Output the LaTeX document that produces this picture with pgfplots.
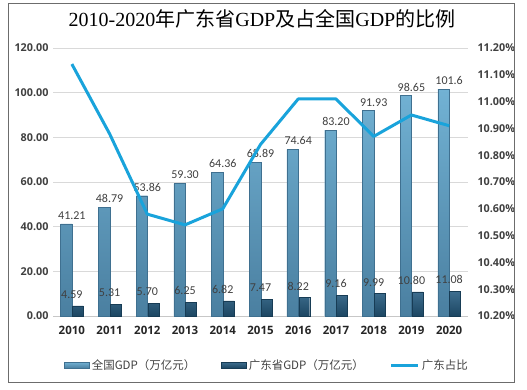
\documentclass[border=0pt]{standalone}
\usepackage{fontspec}
\usepackage{pgfplots}
\usepackage{pgfplotstable}
\pgfplotsset{compat=1.18}
\setmainfont{Carlito}
\newfontfamily\cjk{Noto Sans CJK SC}
\newfontfamily\ser{Liberation Serif}
\newfontfamily\tickf{Open Sans}
\definecolor{natt}{HTML}{72B2D4}
\definecolor{natb}{HTML}{4A7FA0}
\definecolor{natd}{HTML}{3F7090}
\definecolor{gdt}{HTML}{3F6F90}
\definecolor{gdb}{HTML}{1C4662}
\definecolor{gdd}{HTML}{173C55}
\definecolor{linec}{HTML}{19A3DB}
\definecolor{gridc}{HTML}{D9D9D9}
\definecolor{labc}{HTML}{404040}
\pgfplotstableread{
x nat natl gd gdl r
0 41.21 41.21 4.59 4.59 11.14
1 48.79 48.79 5.31 5.31 10.88
2 53.86 53.86 5.70 5.70 10.58
3 59.30 59.30 6.25 6.25 10.54
4 64.36 64.36 6.82 6.82 10.60
5 68.89 68.89 7.47 7.47 10.84
6 74.64 74.64 8.22 8.22 11.01
7 83.20 83.20 9.16 9.16 11.01
8 91.93 91.93 9.99 9.99 10.87
9 98.65 98.65 10.80 10.80 10.95
10 101.6 101.6 11.08 11.08 10.91
}\data
\begin{document}
\begin{tikzpicture}
\path (0pt,0pt) rectangle (527pt,389pt);
\begin{axis}[
  at={(53pt,73pt)}, anchor=south west, scale only axis,
  width=415pt, height=268pt,
  xmin=-0.5, xmax=10.5, ymin=0, ymax=120,
  ytick={0,20,40,60,80,100,120},
  xtick={0,1,2,3,4,5,6,7,8,9,10},
  xticklabels={2010,2011,2012,2013,2014,2015,2016,2017,2018,2019,2020},
  yticklabel={\pgfmathprintnumber[fixed,fixed zerofill,precision=2]{\tick}},
  /pgf/number format/assume math mode=true,
  scaled y ticks=false,
  ymajorgrids, grid style={color=gridc, line width=0.7pt},
  axis x line*=bottom, axis y line*=left,
  x axis line style={draw=gridc!80!gray, line width=0.8pt, -},
  y axis line style={draw=none},
  major tick length=0pt,
  yticklabel style={font=\tickf\bfseries\fontsize{10.8}{12}\selectfont, color=labc, xshift=-1pt},
  xticklabel style={font=\tickf\bfseries\fontsize{11.5}{12}\selectfont, color=black!85, yshift=-7pt},
  clip=false,
  legend columns=3,
  legend style={draw=none, fill=none, at={(0.516,-0.183)}, anchor=center,
     font=\cjk\fontsize{11.5}{13}\selectfont, text=labc,
     /tikz/every even column/.append style={column sep=24pt}},
]
\addplot[ybar, bar width=11.5pt, bar shift=-5.5pt, draw=natd, line width=0.4pt,
  top color=natt, bottom color=natb,
  nodes near coords, point meta=explicit symbolic,
  every node near coord/.append style={font=\fontsize{12}{13}\selectfont, color=labc, yshift=1pt},
  legend image code/.code={\fill[top color=natt,bottom color=natb,draw=natd] (0pt,-3pt) rectangle (25pt,3pt);}]
  table[x=x, y=nat, meta=natl]{\data};
\addlegendentry{全国GDP（万亿元）}
\addplot[ybar, bar width=11pt, bar shift=6pt, draw=gdd, line width=0.4pt,
  top color=gdt, bottom color=gdb,
  nodes near coords, point meta=explicit symbolic,
  every node near coord/.append style={font=\fontsize{12}{13}\selectfont, color=labc, yshift=4pt},
  legend image code/.code={\fill[top color=gdt,bottom color=gdb,draw=gdd] (0pt,-3pt) rectangle (25pt,3pt);}]
  table[x=x, y=gd, meta=gdl]{\data};
\addlegendentry{广东省GDP（万亿元）}
\addlegendimage{legend image code/.code={\draw[linec, line width=3pt] (0pt,0pt) -- (27pt,0pt);}}
\addlegendentry{广东占比}
\end{axis}
\begin{axis}[
  at={(53pt,73pt)}, anchor=south west, scale only axis,
  width=415pt, height=268pt,
  xmin=-0.5, xmax=10.5, ymin=10.2, ymax=11.2,
  ytick={10.2,10.3,10.4,10.5,10.6,10.7,10.8,10.9,11.0,11.1,11.2},
  yticklabel={\pgfmathprintnumber[fixed,fixed zerofill,precision=2]{\tick}\%},
  /pgf/number format/assume math mode=true,
  axis x line=none, axis y line*=right,
  y axis line style={draw=none},
  major tick length=0pt,
  yticklabel style={font=\tickf\bfseries\fontsize{10.8}{12}\selectfont, color=labc, xshift=6pt},
  clip=false,
]
\addplot[color=linec, line width=3pt, line join=round, no markers] table[x=x, y=r]{\data};
\end{axis}
\node[font=\fontsize{20}{22}\selectfont] at (262pt,370pt)
  {{\ser 2010-2020}{\cjk 年广东省}{\ser GDP}{\cjk 及占全国}{\ser GDP}{\cjk 的比例}};
\draw[color=gray!85!black, line width=1pt] (8pt,7pt) rectangle (514pt,385pt);
\end{tikzpicture}
\end{document}
